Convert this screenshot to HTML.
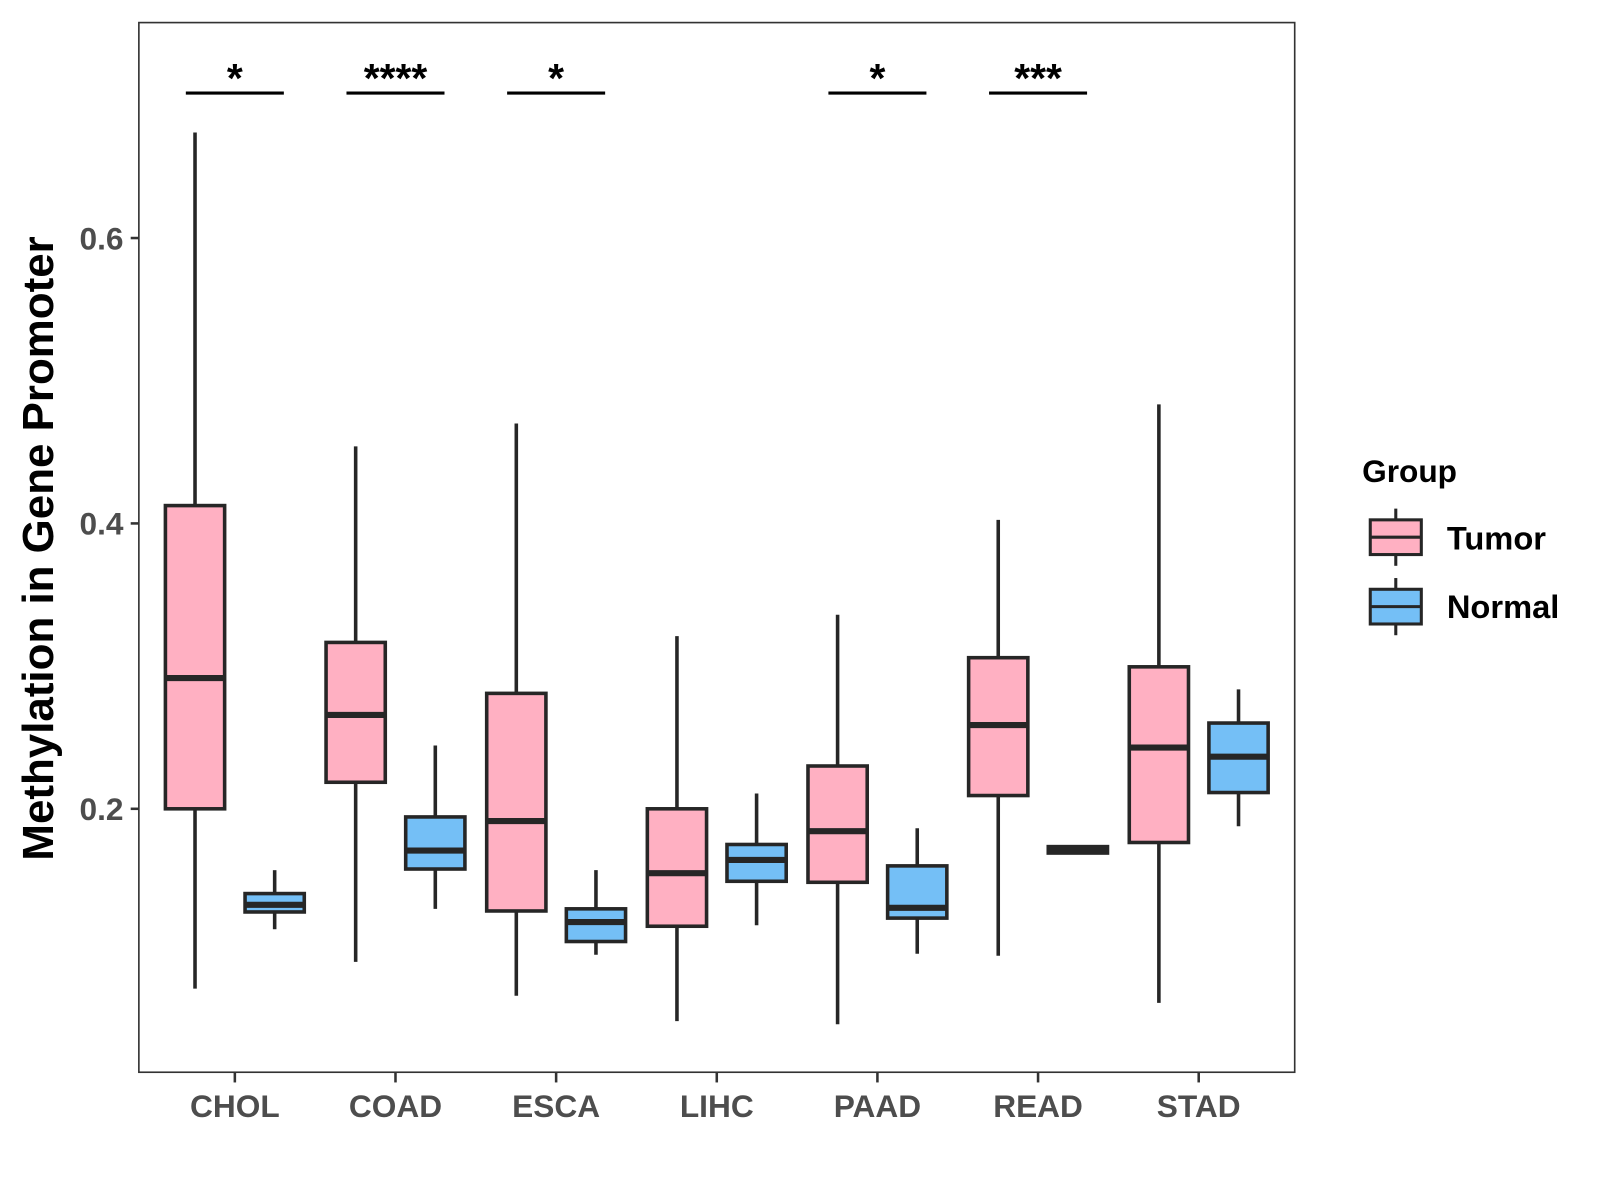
<!DOCTYPE html>
<html><head><meta charset="utf-8"><style>
html,body{margin:0;padding:0;background:#fff;}
svg{display:block;font-family:"Liberation Sans",Arial,sans-serif;}
</style></head><body>
<svg id="chart" width="1600" height="1200" viewBox="0 0 1567 1175">
<rect x="0" y="0" width="1567" height="1175" fill="#fff"/>
<g id="marks"></g>
<rect x="136" y="22" width="1132" height="1028" fill="none" stroke="#333" stroke-width="1.6"/>
<text transform="translate(52,537) rotate(-90)" text-anchor="middle" font-size="43" font-weight="bold" fill="#000">Methylation in Gene Promoter</text>
<g>
<text x="1334" y="472" font-size="31" font-weight="bold" fill="#000">Group</text>
<g>
<line x1="1367" y1="498" x2="1367" y2="554" stroke="#262626" stroke-width="3"/>
<rect x="1342" y="509" width="50" height="34" fill="#FFB0C2" stroke="#262626" stroke-width="3"/>
<line x1="1342" y1="526" x2="1392" y2="526" stroke="#262626" stroke-width="3"/>
<text x="1417" y="538" font-size="32" font-weight="bold" fill="#000">Tumor</text>
</g>
<g>
<line x1="1367" y1="566" x2="1367" y2="622" stroke="#262626" stroke-width="3"/>
<rect x="1342" y="577" width="50" height="34" fill="#74BFF6" stroke="#262626" stroke-width="3"/>
<line x1="1342" y1="594" x2="1392" y2="594" stroke="#262626" stroke-width="3"/>
<text x="1417" y="605" font-size="32" font-weight="bold" fill="#000">Normal</text>
</g>
</g>
</svg>
<script>
const categories = ["CHOL","COAD","ESCA","LIHC","PAAD","READ","STAD"];
// [min, q1, median, q3, max]
const tumorStats = [
 [0.074,0.200,0.2916,0.4125,0.674],
 [0.0927,0.2186,0.2658,0.3166,0.454],
 [0.069,0.1284,0.1914,0.2809,0.470],
 [0.0512,0.1177,0.1549,0.200,0.321],
 [0.049,0.1485,0.1843,0.230,0.336],
 [0.097,0.2093,0.2587,0.3059,0.4025],
 [0.064,0.1764,0.2429,0.2995,0.4834]
];
const normalStats = [
 [0.1156,0.1277,0.1327,0.1406,0.157],
 [0.1299,0.1578,0.1707,0.1943,0.2444],
 [0.0977,0.107,0.1206,0.1299,0.157],
 [0.1184,0.1492,0.1642,0.175,0.2107],
 [0.0984,0.1234,0.1306,0.160,0.1864],
 [0.169,0.169,0.171,0.1735,0.1735],
 [0.1878,0.2114,0.2365,0.2601,0.2837]
];
const sigLabels = ["*","****","*","","*","***",""];
const yTicks = [0.2,0.4,0.6];
const yTickLabels = ["0.2","0.4","0.6"];

const NS="http://www.w3.org/2000/svg";
const g=document.getElementById('marks');
function y(v){return 792-(v-0.2)*1397.5;}
function xc(i){return 230+i*157.33;}
function el(t,a,p){const e=document.createElementNS(NS,t);for(const k in a)e.setAttribute(k,a[k]);(p||g).appendChild(e);return e;}

yTicks.forEach((v,i)=>{
  const t=el('line',{x1:128,x2:136,y1:y(v),y2:y(v),stroke:'#333','stroke-width':2.5});
  
  
  const l=el('text',{x:121,y:y(v)+11,'text-anchor':'end','font-size':31,'font-weight':'bold',fill:'#4d4d4d'});
  l.textContent=yTickLabels[i];
  
  
});

function box(s,cx,fill,name){
  const grp=el('g',{});
  
  
  el('line',{x1:cx,x2:cx,y1:y(s[4]),y2:y(s[0]),stroke:'#262626','stroke-width':3.5},grp);
  el('rect',{x:cx-29,y:y(s[3]),width:58,height:Math.max(y(s[1])-y(s[3]),1),fill:fill,stroke:'#262626','stroke-width':3.5},grp);
  el('line',{x1:cx-29,x2:cx+29,y1:y(s[2]),y2:y(s[2]),stroke:'#262626','stroke-width':6},grp);
}
categories.forEach((c,i)=>{
  const cx=xc(i);
  box(tumorStats[i],cx-39,'#FFB0C2','box-tumor-'+c.toLowerCase());
  box(normalStats[i],cx+39,'#74BFF6','box-normal-'+c.toLowerCase());
  const t=el('line',{x1:cx,x2:cx,y1:1050,y2:1060,stroke:'#333','stroke-width':2.5});
  
  
  const l=el('text',{x:cx,y:1094,'text-anchor':'middle','font-size':31,'font-weight':'bold',fill:'#4d4d4d'});
  l.textContent=c;
  
  
  if(sigLabels[i]){
    const b=el('line',{x1:cx-48,x2:cx+48,y1:91,y2:91,stroke:'#000','stroke-width':3});
    
    
    const s=el('text',{x:cx,y:90,'text-anchor':'middle','font-size':40,'font-weight':'bold',fill:'#000'});
    s.textContent=sigLabels[i];
    
    
  }
});
</script>
</body></html>
